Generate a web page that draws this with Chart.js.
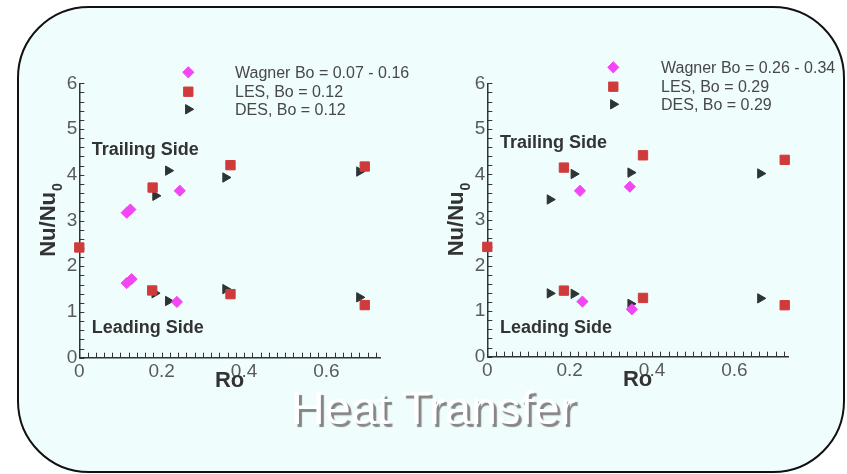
<!DOCTYPE html>
<html><head><meta charset="utf-8">
<script src="https://cdn.jsdelivr.net/npm/chart.js@4.4.1/dist/chart.umd.min.js"></script>
<style>
html,body{margin:0;padding:0;background:#fff;width:847px;height:474px;overflow:hidden;position:relative}
#frame{position:absolute;left:17px;top:6px;width:824px;height:463px;border:2px solid #111;border-radius:72px;background:#effdfd}
canvas{position:absolute;top:0}
#c1{left:0}
#c2{left:423px}
#heat{position:absolute;left:0;width:866px;top:383px;text-align:center;font:47px "Liberation Sans",Arial,sans-serif;line-height:50px;color:#fff;text-shadow:3px 3px 1px #858585}
</style>
</head><body>
<div id="frame"></div>
<canvas id="c1" width="423" height="474"></canvas>
<canvas id="c2" width="424" height="474"></canvas>
<div id="heat">Heat Transfer</div>
<script>
// ---------- data ----------
const leftWagnerRo = [0.115, 0.124, 0.244, 0.115, 0.127, 0.237];
const leftWagnerNu = [3.17, 3.24, 3.65, 1.63, 1.72, 1.22];
const leftLesRo = [0, 0.178, 0.367, 0.693, 0.177, 0.367, 0.693];
const leftLesNu = [2.41, 3.72, 4.21, 4.18, 1.47, 1.39, 1.15];
const leftDesRo = [0.185, 0.216, 0.355, 0.680, 0.183, 0.216, 0.355, 0.680];
const leftDesNu = [3.54, 4.09, 3.94, 4.07, 1.41, 1.24, 1.50, 1.32];

const rightWagnerRo = [0.225, 0.346, 0.231, 0.351];
const rightWagnerNu = [3.64, 3.73, 1.21, 1.04];
const rightLesRo = [0, 0.186, 0.378, 0.722, 0.186, 0.378, 0.722];
const rightLesNu = [2.41, 4.15, 4.42, 4.32, 1.45, 1.29, 1.13];
const rightDesRo = [0.152, 0.210, 0.348, 0.663, 0.152, 0.210, 0.348, 0.663];
const rightDesNu = [3.45, 4.01, 4.04, 4.02, 1.39, 1.38, 1.16, 1.28];

const leftLegend = ['Wagner Bo = 0.07 - 0.16', 'LES, Bo = 0.12', 'DES, Bo = 0.12'];
const rightLegend = ['Wagner Bo = 0.26 - 0.34', 'LES, Bo = 0.29', 'DES, Bo = 0.29'];

const xTickLabels = ['0', '0.2', '0.4', '0.6'];
const yTickLabels = ['0', '1', '2', '3', '4', '5', '6'];
const xMinorStep = 0.02, yMinorStep = 0.2;
const xMax = 0.73, yMax = 6;

const sideLabels = ['Trailing Side', 'Leading Side'];
const yTitle = 'Nu/Nu', yTitleSub = '0', xTitle = 'Ro';

// ---------- helpers ----------
function pts(xs, ys) { return xs.map((x, i) => ({ x: x, y: ys[i] })); }
function range(step, max) { const a = []; for (let i = 0; i * step <= max + 1e-9; i++) a.push(Math.round(i * step * 1000) / 1000); return a; }
const xTickVals = range(xMinorStep, xMax);
const yTickVals = range(yMinorStep, yMax);
function xLabel(v) { return xTickLabels.find(l => Math.abs(parseFloat(l) - v) < 1e-6) || ''; }
function yLabel(v) { return yTickLabels.find(l => Math.abs(parseFloat(l) - v) < 1e-6) || ''; }

const STY = {
  wagner: { color: '#f346f3', style: 'rectRot', r: 5.6, rot: 0 },
  les: { color: '#cf3b3b', style: 'rect', r: 6.6, rot: 0 },
  des: { color: '#2c3434', style: 'triangle', r: 5.4, rot: 90 }
};

function ds(label, data, s) {
  return { label: label, data: data, pointStyle: s.style, pointRotation: s.rot, pointRadius: s.r, pointHoverRadius: s.r,
    backgroundColor: s.color, borderColor: s.color, pointBorderWidth: 1, showLine: false, clip: false };
}

const decor = {
  id: 'decor',
  beforeDatasetsDraw(chart) {
    const ctx = chart.ctx, xs = chart.scales.x, ys = chart.scales.y, ca = chart.chartArea;
    ctx.save();
    ctx.strokeStyle = '#333'; ctx.lineWidth = 1;
    xs.ticks.forEach(t => { const p = Math.round(xs.getPixelForValue(t.value)) + 0.5; ctx.beginPath(); ctx.moveTo(p, ca.bottom); ctx.lineTo(p, ca.bottom - 5); ctx.stroke(); });
    ys.ticks.forEach(t => { const p = Math.round(ys.getPixelForValue(t.value)) + 0.5; ctx.beginPath(); ctx.moveTo(ca.left, p); ctx.lineTo(ca.left + 5, p); ctx.stroke(); });
    ctx.restore();
  },
  afterDraw(chart, args, o) {
    const ctx = chart.ctx, xs = chart.scales.x, ys = chart.scales.y, ca = chart.chartArea;
    ctx.save();
    // side annotations
    ctx.fillStyle = '#333'; ctx.font = 'bold 18px "Liberation Sans", Arial, sans-serif';
    ctx.textBaseline = 'alphabetic'; ctx.textAlign = 'left';
    o.notes.forEach(n => ctx.fillText(n.text, xs.getPixelForValue(n.x), ys.getPixelForValue(n.y)));
    // y title with subscript
    ctx.save();
    ctx.translate(ca.left - 33, (ca.top + ca.bottom) / 2);
    ctx.rotate(-Math.PI / 2);
    ctx.font = 'bold 22px "Liberation Sans", Arial, sans-serif';
    const w1 = ctx.measureText(yTitle).width;
    ctx.font = 'bold 14px "Liberation Sans", Arial, sans-serif';
    const w2 = ctx.measureText(yTitleSub).width;
    const start = -(w1 + w2) / 2;
    ctx.font = 'bold 22px "Liberation Sans", Arial, sans-serif';
    ctx.fillText(yTitle, start, 8.5);
    ctx.font = 'bold 14px "Liberation Sans", Arial, sans-serif';
    ctx.fillText(yTitleSub, start + w1 + 1, 15.5);
    ctx.restore();
    // x title
    ctx.font = 'bold 22px "Liberation Sans", Arial, sans-serif';
    ctx.textAlign = 'center';
    ctx.fillText(xTitle, (ca.left + ca.right) / 2, ca.bottom + 29);
    // legend
    const H = Chart.helpers;
    ctx.textAlign = 'left'; ctx.textBaseline = 'middle';
    ctx.font = '16px "Liberation Sans", Arial, sans-serif';
    chart.data.datasets.forEach((d, i) => {
      const y = o.legend.y0 + i * o.legend.dy[i];
      ctx.fillStyle = d.backgroundColor;
      ctx.strokeStyle = d.borderColor;
      ctx.lineWidth = 1;
      if (H && H.drawPoint) {
        H.drawPoint(ctx, { pointStyle: d.pointStyle, rotation: d.pointRotation, radius: d.pointRadius, borderWidth: 1 }, o.legend.mx, y);
      }
      ctx.fillStyle = '#484848';
      ctx.fillText(o.labels[i], o.legend.tx, y + 1);
    });
    ctx.restore();
  }
};

function makeChart(id, sets, labels, pad, yWidth, legend, notes) {
  return new Chart(document.getElementById(id), {
    type: 'scatter',
    data: { datasets: sets },
    options: {
      responsive: false, animation: false, devicePixelRatio: 1,
      layout: { padding: pad },
      plugins: { legend: { display: false }, tooltip: { enabled: false }, decor: { legend: legend, labels: labels, notes: notes } },
      scales: {
        x: {
          type: 'linear', min: 0, max: xMax,
          afterBuildTicks: s => { s.ticks = xTickVals.map(v => ({ value: v })); },
          afterFit: s => { s.height = 30; },
          grid: { display: true, drawOnChartArea: false, drawTicks: false },
          border: { display: true, color: '#333', width: 1.5 },
          ticks: { autoSkip: false, maxRotation: 0, padding: 3, color: '#5a5a5a', font: { family: '"Liberation Sans", Arial, sans-serif', size: 19 }, callback: v => xLabel(v) }
        },
        y: {
          type: 'linear', min: 0, max: yMax,
          afterBuildTicks: s => { s.ticks = yTickVals.map(v => ({ value: v })); },
          afterFit: s => { s.width = yWidth; },
          grid: { display: true, drawOnChartArea: false, drawTicks: false },
          border: { display: true, color: '#333', width: 1.5 },
          ticks: { autoSkip: false, padding: 2, color: '#5a5a5a', font: { family: '"Liberation Sans", Arial, sans-serif', size: 19 }, callback: v => yLabel(v) }
        }
      }
    },
    plugins: [decor]
  });
}

makeChart('c1', [
  ds(leftLegend[0], pts(leftWagnerRo, leftWagnerNu), STY.wagner),
  ds(leftLegend[1], pts(leftLesRo, leftLesNu), STY.les),
  ds(leftLegend[2], pts(leftDesRo, leftDesNu), STY.des)
], leftLegend, { left: 0, top: 83.3, right: 43, bottom: 86.3 }, 79.3,
  { mx: 188.3, tx: 235, y0: 72.3, dy: [0, 19.4, 18.5] },
  [{ text: sideLabels[0], x: 0.03, y: 4.43 }, { text: sideLabels[1], x: 0.03, y: 0.53 }]);

makeChart('c2', [
  ds(rightLegend[0], pts(rightWagnerRo, rightWagnerNu), STY.wagner),
  ds(rightLegend[1], pts(rightLesRo, rightLesNu), STY.les),
  ds(rightLegend[2], pts(rightDesRo, rightDesNu), STY.des)
], rightLegend, { left: 0, top: 83.3, right: 59, bottom: 87.3 }, 64.3,
  { mx: 190.3, tx: 238, y0: 67.3, dy: [0, 19.4, 18.5] },
  [{ text: sideLabels[0], x: 0.031, y: 4.57 }, { text: sideLabels[1], x: 0.031, y: 0.53 }]);
</script>
</body></html>
